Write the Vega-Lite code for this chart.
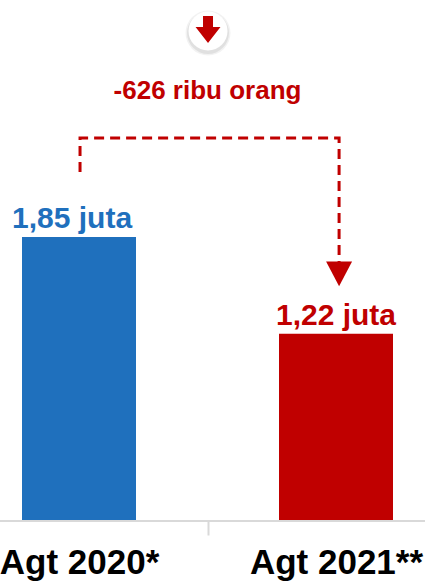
{
"$schema":"https://vega.github.io/schema/vega-lite/v6.json",
"width":425,"height":521,"autosize":"none","padding":{"left":0,"top":0,"right":0,"bottom":63},
"background":"white",
"config":{"view":{"stroke":null}},
"datasets":{
"bars":[{"year":2020,"juta":1.85,"label":"1,85 juta","color":"#1F70BD","labelX":2019.973},{"year":2021,"juta":1.22,"label":"1,22 juta","color":"#C00000","labelX":2021}],
"path":[{"x":2020.004,"y":2.274,"o":0},{"x":2020.004,"y":2.495,"o":1},{"x":2021.012,"y":2.495,"o":2},{"x":2021.012,"y":1.68,"o":3}],
"tip":[{"x":2021.012,"y":1.61}],
"icon":[{"x":2020.502,"y":3.192}],
"note":[{"x":2020.5,"y":2.75,"t":"-626 ribu orang"}]
},
"encoding":{},
"layer":[
{"data":{"name":"bars"},"mark":{"type":"bar","size":114},
 "encoding":{
  "x":{"field":"year","type":"quantitative","scale":{"domain":[2019.6926,2021.3463],"nice":false,"zero":false,"padding":0},"title":null,
   "axis":{"values":[2020,2020.5,2021],"grid":false,"domain":false,"labelExpr":"datum.value==2020?'Agt 2020*':datum.value==2021?'Agt 2021**':''","labelFont":"Liberation Sans","labelFontWeight":"bold","labelFontSize":35,"labelColor":"#000000","labelPadding":10,"labelFlush":false,"labelOverlap":false,"tickColor":"#D9D9D9","tickWidth":2,"tickSize":14,"tickOpacity":{"condition":{"test":"datum.value==2020.5","value":1},"value":0}}},
  "y":{"field":"juta","type":"quantitative","scale":{"domain":[0,3.394],"nice":false},"axis":null},
  "color":{"field":"color","type":"nominal","scale":null}}},
{"data":{"values":[{"y":0}]},"mark":{"type":"rule","color":"#D9D9D9","strokeWidth":2},"encoding":{"y":{"field":"y","type":"quantitative"}}},
{"data":{"name":"bars"},"mark":{"type":"text","font":"Liberation Sans","fontWeight":"bold","fontSize":30,"baseline":"alphabetic","dy":-9},
 "encoding":{"x":{"field":"labelX","type":"quantitative"},"y":{"field":"juta","type":"quantitative"},"text":{"field":"label"},"color":{"field":"color","type":"nominal","scale":null}}},
{"data":{"name":"path"},"mark":{"type":"line","color":"#C00000","strokeWidth":3,"strokeDash":[10,6],"interpolate":"linear"},
 "encoding":{"x":{"field":"x","type":"quantitative"},"y":{"field":"y","type":"quantitative"},"order":{"field":"o","type":"ordinal"}}},
{"data":{"name":"tip"},"mark":{"type":"point","filled":true,"opacity":1,"color":"#C00000","shape":"M-1,-0.96L1,-0.96L0,0.96Z","size":676},
 "encoding":{"x":{"field":"x","type":"quantitative"},"y":{"field":"y","type":"quantitative"}}},
{"data":{"name":"icon"},"mark":{"type":"point","filled":true,"opacity":0.05,"color":"#000000","shape":"circle","size":2025,"yOffset":2},"encoding":{"x":{"field":"x","type":"quantitative"},"y":{"field":"y","type":"quantitative"}}},
{"data":{"name":"icon"},"mark":{"type":"point","filled":true,"opacity":0.07,"color":"#000000","shape":"circle","size":1764,"yOffset":2},"encoding":{"x":{"field":"x","type":"quantitative"},"y":{"field":"y","type":"quantitative"}}},
{"data":{"name":"icon"},"mark":{"type":"point","filled":true,"opacity":1,"color":"#FFFFFF","shape":"circle","size":1521},"encoding":{"x":{"field":"x","type":"quantitative"},"y":{"field":"y","type":"quantitative"}}},
{"data":{"name":"icon"},"mark":{"type":"point","filled":true,"opacity":1,"color":"#C00000","shape":"M-.357,-.96L.357,-.96L.357,-.18L.89,-.18L0,.96L-.89,-.18L-.357,-.18Z","size":784,"yOffset":-1.5},"encoding":{"x":{"field":"x","type":"quantitative"},"y":{"field":"y","type":"quantitative"}}},
{"data":{"name":"note"},"mark":{"type":"text","font":"Liberation Sans","fontWeight":"bold","fontSize":26,"color":"#C00000","baseline":"alphabetic"},
 "encoding":{"x":{"field":"x","type":"quantitative"},"y":{"field":"y","type":"quantitative"},"text":{"field":"t"}}}
]
}
